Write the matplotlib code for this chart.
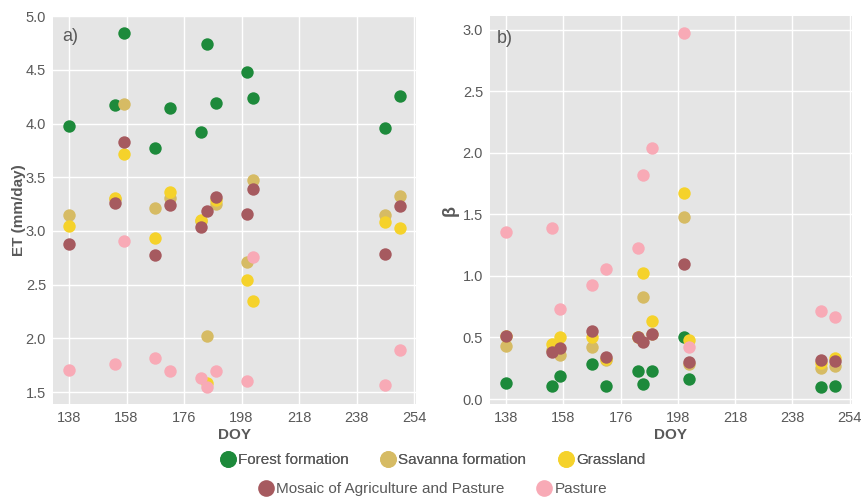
import matplotlib
matplotlib.use("Agg")
import matplotlib.pyplot as plt
from matplotlib.lines import Line2D

plt.rcParams['font.family'] = ['Liberation Sans', 'DejaVu Sans']

doy = [138, 154, 157, 168, 173, 184, 186, 189, 200, 202, 248, 253]

et_forest    = [3.98, 4.17, 4.84, 3.77, 4.14, 3.92, 4.74, 4.19, 4.48, 4.24, 3.96, 4.26]
et_savanna   = [3.15, 3.30, 4.18, 3.21, 3.31, 3.09, 2.02, 3.25, 2.71, 3.47, 3.15, 3.33]
et_grassland = [3.05, 3.31, 3.72, 2.93, 3.36, 3.10, 1.59, 3.29, 2.54, 2.35, 3.08, 3.03]
et_mosaic    = [2.88, 3.26, 3.83, 2.78, 3.245, 3.04, 3.19, 3.32, 3.16, 3.39, 2.79, 3.23]
et_pasture   = [1.71, 1.76, 2.91, 1.82, 1.70, 1.63, 1.545, 1.70, 1.60, 2.755, 1.57, 1.89]

b_forest    = [0.13, 0.11, 0.185, 0.285, 0.11, 0.227, 0.12, 0.23, 0.505, 0.16, 0.095, 0.11]
b_savanna   = [0.435, 0.40, 0.357, 0.425, 0.32, 0.50, 0.825, 0.53, 1.48, 0.285, 0.255, 0.265]
b_grassland = [0.515, 0.445, 0.50, 0.505, 0.325, 0.505, 1.025, 0.63, 1.67, 0.48, 0.29, 0.33]
b_mosaic    = [0.51, 0.384, 0.416, 0.55, 0.338, 0.50, 0.46, 0.53, 1.095, 0.305, 0.32, 0.31]
b_pasture   = [1.355, 1.39, 0.73, 0.93, 1.06, 1.23, 1.82, 2.04, 2.97, 0.42, 0.715, 0.665]

classes = ["Forest formation", "Savanna formation", "Grassland",
           "Mosaic of Agriculture and Pasture", "Pasture"]
colors = ["#1d8a3b", "#d6bb64", "#f5d22b", "#a65a5f", "#f8aab6"]

xtick_pos = [138, 158, 178, 198, 218, 238, 258]
xtick_labels = ["138", "158", "176", "198", "218", "238", "254"]

fig = plt.figure(figsize=(8.64, 5.01), dpi=100)
ax1 = fig.add_axes([0.0613, 0.1936, 0.4202, 0.7744])
ax2 = fig.add_axes([0.5671, 0.1936, 0.4187, 0.7744])

et_series = [et_forest, et_savanna, et_grassland, et_mosaic, et_pasture]
b_series = [b_forest, b_savanna, b_grassland, b_mosaic, b_pasture]

tick_color = "#595959"
for ax, series in ((ax1, et_series), (ax2, b_series)):
    ax.set_facecolor("#e5e5e5")
    for s in ax.spines.values():
        s.set_visible(False)
    ax.grid(True, color="white", linewidth=1.0)
    ax.set_axisbelow(True)
    for vals, c, lab in zip(series, colors, classes):
        ax.scatter(doy, vals, s=80, color=c, label=lab, linewidths=0, zorder=3)
    ax.set_xticks(xtick_pos)
    ax.set_xticklabels(xtick_labels)
    ax.set_xlim(132.4, 258.7)
    ax.tick_params(length=0, pad=5, labelsize=10.5, labelcolor=tick_color)
    ax.set_xlabel("DOY", fontsize=11, fontweight="bold", color=tick_color, labelpad=2)

ax1.set_ylim(1.39, 5.0)
ax1.set_yticks([1.5, 2.0, 2.5, 3.0, 3.5, 4.0, 4.5, 5.0])
ax1.set_yticklabels(["1.5", "2.0", "2.5", "3.0", "3.5", "4.0", "4.5", "5.0"])
ax1.set_ylabel("ET (mm/day)", fontsize=11, fontweight="bold", color=tick_color, labelpad=0)

ax2.set_ylim(-0.04, 3.11)
ax2.set_yticks([0.0, 0.5, 1.0, 1.5, 2.0, 2.5, 3.0])
ax2.set_yticklabels(["0.0", "0.5", "1.0", "1.5", "2.0", "2.5", "3.0"])
ax2.set_ylabel("β", fontsize=13, fontweight="bold", color=tick_color, labelpad=3)

ax1.text(0.025, 0.97, "a)", transform=ax1.transAxes, fontsize=13, color=tick_color,
         va="top", ha="left")
ax2.text(0.02, 0.965, "b)", transform=ax2.transAxes, fontsize=13, color=tick_color,
         va="top", ha="left")

def handle(c, lab):
    return Line2D([], [], marker="o", linestyle="none", markersize=12,
                  markerfacecolor=c, markeredgewidth=0, label=lab)

h = [handle(c, l) for c, l in zip(colors, classes)]
leg1 = fig.legend(handles=h[:3], loc="center", bbox_to_anchor=(0.5, 0.081), ncol=3,
                  frameon=False, fontsize=11, handletextpad=0.05, columnspacing=2.0,
                  labelcolor=tick_color, handlelength=1.2)
fig.add_artist(leg1)
fig.legend(handles=h[3:], loc="center", bbox_to_anchor=(0.5, 0.024), ncol=2,
           frameon=False, fontsize=11, handletextpad=0.05, columnspacing=2.0,
           labelcolor=tick_color, handlelength=1.2)

fig.savefig("out.png", dpi=100)
